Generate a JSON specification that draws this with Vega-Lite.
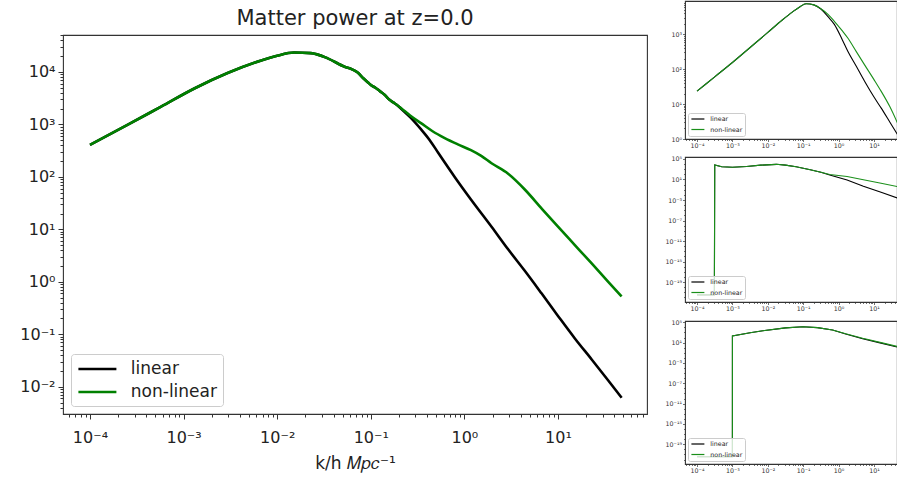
{
  "$schema": "https://vega.github.io/schema/vega-lite/v6.json",
  "background": "white",
  "padding": {"left": 6, "top": 0, "right": 0, "bottom": 0},
  "config": {
    "font": "DejaVu Sans",
    "view": {"stroke": "#333333", "strokeWidth": 1.1},
    "axis": {"grid": false, "domain": false, "labelFont": "DejaVu Sans", "titleFont": "DejaVu Sans", "labelColor": "#222222", "titleColor": "#222222", "tickColor": "#333333", "titleFontWeight": "normal", "labelOverlap": false, "labelFlush": false},
    "legend": {"labelFont": "DejaVu Sans", "labelColor": "#222222"}
  },
  "datasets": {
    "main": [
      {"k": 0.0001, "P": 407.4, "s": "linear"},
      {"k": 0.0002512, "P": 977.2, "s": "linear"},
      {"k": 0.0005754, "P": 2188, "s": "linear"},
      {"k": 0.001318, "P": 4898, "s": "linear"},
      {"k": 0.002951, "P": 9550, "s": "linear"},
      {"k": 0.006761, "P": 16596, "s": "linear"},
      {"k": 0.01, "P": 20417, "s": "linear"},
      {"k": 0.01514, "P": 23442, "s": "linear"},
      {"k": 0.02291, "P": 22909, "s": "linear"},
      {"k": 0.03467, "P": 18197, "s": "linear"},
      {"k": 0.05248, "P": 12589, "s": "linear"},
      {"k": 0.0631, "P": 11220, "s": "linear"},
      {"k": 0.07244, "P": 9772, "s": "linear"},
      {"k": 0.08318, "P": 7586, "s": "linear"},
      {"k": 0.09333, "P": 6310, "s": "linear"},
      {"k": 0.1023, "P": 5495, "s": "linear"},
      {"k": 0.1122, "P": 5012, "s": "linear"},
      {"k": 0.1259, "P": 4266, "s": "linear"},
      {"k": 0.1413, "P": 3631, "s": "linear"},
      {"k": 0.1585, "P": 2951, "s": "linear"},
      {"k": 0.1738, "P": 2630, "s": "linear"},
      {"k": 0.1905, "P": 2344, "s": "linear"},
      {"k": 0.2138, "P": 1950, "s": "linear"},
      {"k": 0.263, "P": 1380, "s": "linear"},
      {"k": 0.3467, "P": 794.3, "s": "linear"},
      {"k": 0.4266, "P": 501.2, "s": "linear"},
      {"k": 0.5248, "P": 288.4, "s": "linear"},
      {"k": 0.7943, "P": 97.72, "s": "linear"},
      {"k": 1.175, "P": 37.15, "s": "linear"},
      {"k": 1.95, "P": 11.22, "s": "linear"},
      {"k": 2.931, "P": 4.169, "s": "linear"},
      {"k": 4.416, "P": 1.622, "s": "linear"},
      {"k": 6.668, "P": 0.6026, "s": "linear"},
      {"k": 10, "P": 0.2239, "s": "linear"},
      {"k": 15.14, "P": 0.08318, "s": "linear"},
      {"k": 22.91, "P": 0.03311, "s": "linear"},
      {"k": 34.43, "P": 0.01318, "s": "linear"},
      {"k": 47.86, "P": 0.006166, "s": "linear"},
      {"k": 0.0001, "P": 407.4, "s": "non-linear"},
      {"k": 0.0002512, "P": 977.2, "s": "non-linear"},
      {"k": 0.0005754, "P": 2188, "s": "non-linear"},
      {"k": 0.001318, "P": 4898, "s": "non-linear"},
      {"k": 0.002951, "P": 9550, "s": "non-linear"},
      {"k": 0.006761, "P": 16596, "s": "non-linear"},
      {"k": 0.01, "P": 20417, "s": "non-linear"},
      {"k": 0.01514, "P": 23442, "s": "non-linear"},
      {"k": 0.02291, "P": 22909, "s": "non-linear"},
      {"k": 0.03467, "P": 18197, "s": "non-linear"},
      {"k": 0.05248, "P": 12589, "s": "non-linear"},
      {"k": 0.0631, "P": 11220, "s": "non-linear"},
      {"k": 0.07244, "P": 9772, "s": "non-linear"},
      {"k": 0.08318, "P": 7586, "s": "non-linear"},
      {"k": 0.09333, "P": 6310, "s": "non-linear"},
      {"k": 0.1023, "P": 5495, "s": "non-linear"},
      {"k": 0.1122, "P": 5012, "s": "non-linear"},
      {"k": 0.1259, "P": 4266, "s": "non-linear"},
      {"k": 0.1413, "P": 3631, "s": "non-linear"},
      {"k": 0.1585, "P": 2951, "s": "non-linear"},
      {"k": 0.1738, "P": 2630, "s": "non-linear"},
      {"k": 0.1905, "P": 2344, "s": "non-linear"},
      {"k": 0.2138, "P": 1995, "s": "non-linear"},
      {"k": 0.263, "P": 1479, "s": "non-linear"},
      {"k": 0.3467, "P": 1047, "s": "non-linear"},
      {"k": 0.4571, "P": 741.3, "s": "non-linear"},
      {"k": 0.6166, "P": 549.5, "s": "non-linear"},
      {"k": 0.8511, "P": 416.9, "s": "non-linear"},
      {"k": 1.175, "P": 323.6, "s": "non-linear"},
      {"k": 1.514, "P": 251.2, "s": "non-linear"},
      {"k": 1.95, "P": 182.0, "s": "non-linear"},
      {"k": 2.931, "P": 114.8, "s": "non-linear"},
      {"k": 4.416, "P": 57.54, "s": "non-linear"},
      {"k": 6.668, "P": 25.12, "s": "non-linear"},
      {"k": 10, "P": 11.22, "s": "non-linear"},
      {"k": 15.14, "P": 5.012, "s": "non-linear"},
      {"k": 22.91, "P": 2.239, "s": "non-linear"},
      {"k": 34.43, "P": 1.0, "s": "non-linear"},
      {"k": 47.86, "P": 0.5248, "s": "non-linear"}
    ],
    "p1": [
      {"k": 0.0001, "P": 23.44, "s": "linear"},
      {"k": 0.0003162, "P": 60.26, "s": "linear"},
      {"k": 0.001, "P": 154.9, "s": "linear"},
      {"k": 0.003162, "P": 416.9, "s": "linear"},
      {"k": 0.01, "P": 1122, "s": "linear"},
      {"k": 0.02512, "P": 2512, "s": "linear"},
      {"k": 0.05012, "P": 4365, "s": "linear"},
      {"k": 0.07943, "P": 6026, "s": "linear"},
      {"k": 0.1202, "P": 7413, "s": "linear"},
      {"k": 0.1995, "P": 6918, "s": "linear"},
      {"k": 0.3162, "P": 5248, "s": "linear"},
      {"k": 0.5012, "P": 3162, "s": "linear"},
      {"k": 0.7586, "P": 1905, "s": "linear"},
      {"k": 1.259, "P": 707.9, "s": "linear"},
      {"k": 1.82, "P": 323.6, "s": "linear"},
      {"k": 3.162, "P": 120.2, "s": "linear"},
      {"k": 5.37, "P": 45.71, "s": "linear"},
      {"k": 10, "P": 15.85, "s": "linear"},
      {"k": 15.85, "P": 7.762, "s": "linear"},
      {"k": 28.18, "P": 3.02, "s": "linear"},
      {"k": 47.86, "P": 1.259, "s": "linear"},
      {"k": 0.0001, "P": 23.44, "s": "non-linear"},
      {"k": 0.0003162, "P": 60.26, "s": "non-linear"},
      {"k": 0.001, "P": 154.9, "s": "non-linear"},
      {"k": 0.003162, "P": 416.9, "s": "non-linear"},
      {"k": 0.01, "P": 1122, "s": "non-linear"},
      {"k": 0.02512, "P": 2512, "s": "non-linear"},
      {"k": 0.05012, "P": 4365, "s": "non-linear"},
      {"k": 0.07943, "P": 6026, "s": "non-linear"},
      {"k": 0.1202, "P": 7413, "s": "non-linear"},
      {"k": 0.1995, "P": 6918, "s": "non-linear"},
      {"k": 0.3162, "P": 5370, "s": "non-linear"},
      {"k": 0.5012, "P": 3715, "s": "non-linear"},
      {"k": 0.7586, "P": 2344, "s": "non-linear"},
      {"k": 1.259, "P": 1259, "s": "non-linear"},
      {"k": 1.82, "P": 776.2, "s": "non-linear"},
      {"k": 3.162, "P": 316.2, "s": "non-linear"},
      {"k": 5.37, "P": 134.9, "s": "non-linear"},
      {"k": 10, "P": 50.12, "s": "non-linear"},
      {"k": 15.85, "P": 23.44, "s": "non-linear"},
      {"k": 28.18, "P": 8.318, "s": "non-linear"},
      {"k": 47.86, "P": 2.63, "s": "non-linear"}
    ],
    "p2": [
      {"k": 0.0001, "P": 3.162e-22, "s": "linear"},
      {"k": 0.000309, "P": 3.162e-22, "s": "linear"},
      {"k": 0.0003162, "P": 6761, "s": "linear"},
      {"k": 0.0005012, "P": 3162, "s": "linear"},
      {"k": 0.001, "P": 2399, "s": "linear"},
      {"k": 0.002512, "P": 3548, "s": "linear"},
      {"k": 0.00631, "P": 6310, "s": "linear"},
      {"k": 0.01738, "P": 9120, "s": "linear"},
      {"k": 0.03162, "P": 6310, "s": "linear"},
      {"k": 0.0631, "P": 3162, "s": "linear"},
      {"k": 0.1585, "P": 794.3, "s": "linear"},
      {"k": 0.3162, "P": 251.2, "s": "linear"},
      {"k": 0.5623, "P": 75.86, "s": "linear"},
      {"k": 1.738, "P": 7.943, "s": "linear"},
      {"k": 5.012, "P": 0.5012, "s": "linear"},
      {"k": 15.85, "P": 0.03162, "s": "linear"},
      {"k": 47.86, "P": 0.002138, "s": "linear"},
      {"k": 0.0001, "P": 3.162e-22, "s": "non-linear"},
      {"k": 0.000309, "P": 3.162e-22, "s": "non-linear"},
      {"k": 0.0003162, "P": 6761, "s": "non-linear"},
      {"k": 0.0005012, "P": 3162, "s": "non-linear"},
      {"k": 0.001, "P": 2399, "s": "non-linear"},
      {"k": 0.002512, "P": 3548, "s": "non-linear"},
      {"k": 0.00631, "P": 6310, "s": "non-linear"},
      {"k": 0.01738, "P": 9120, "s": "non-linear"},
      {"k": 0.03162, "P": 6310, "s": "non-linear"},
      {"k": 0.0631, "P": 3162, "s": "non-linear"},
      {"k": 0.1585, "P": 794.3, "s": "non-linear"},
      {"k": 0.3162, "P": 251.2, "s": "non-linear"},
      {"k": 0.5623, "P": 95.5, "s": "non-linear"},
      {"k": 1.738, "P": 39.81, "s": "non-linear"},
      {"k": 5.012, "P": 8.913, "s": "non-linear"},
      {"k": 15.85, "P": 1.905, "s": "non-linear"},
      {"k": 47.86, "P": 0.3981, "s": "non-linear"}
    ],
    "p3": [
      {"k": 0.0001, "P": 3.467e-22, "s": "linear"},
      {"k": 0.000998, "P": 3.467e-22, "s": "linear"},
      {"k": 0.001, "P": 199.5, "s": "linear"},
      {"k": 0.003162, "P": 891.3, "s": "linear"},
      {"k": 0.007244, "P": 2239, "s": "linear"},
      {"k": 0.03162, "P": 7943, "s": "linear"},
      {"k": 0.09772, "P": 13490, "s": "linear"},
      {"k": 0.2512, "P": 8913, "s": "linear"},
      {"k": 0.6761, "P": 3020, "s": "linear"},
      {"k": 1.585, "P": 501.2, "s": "linear"},
      {"k": 4.786, "P": 60.26, "s": "linear"},
      {"k": 15.85, "P": 7.943, "s": "linear"},
      {"k": 47.86, "P": 1.259, "s": "linear"},
      {"k": 0.0001, "P": 3.467e-22, "s": "non-linear"},
      {"k": 0.000998, "P": 3.467e-22, "s": "non-linear"},
      {"k": 0.001, "P": 199.5, "s": "non-linear"},
      {"k": 0.003162, "P": 891.3, "s": "non-linear"},
      {"k": 0.007244, "P": 2239, "s": "non-linear"},
      {"k": 0.03162, "P": 7943, "s": "non-linear"},
      {"k": 0.09772, "P": 13490, "s": "non-linear"},
      {"k": 0.2512, "P": 8913, "s": "non-linear"},
      {"k": 0.6761, "P": 3020, "s": "non-linear"},
      {"k": 1.585, "P": 562.3, "s": "non-linear"},
      {"k": 4.786, "P": 70.79, "s": "non-linear"},
      {"k": 15.85, "P": 10, "s": "non-linear"},
      {"k": 47.86, "P": 1.585, "s": "non-linear"}
    ]
  },
  "spacing": 14,
  "resolve": {"scale": {"color": "independent"}, "legend": {"color": "independent"}},
  "hconcat": [
    {
      "spacing": 0,
      "resolve": {"scale": {"color": "independent"}, "legend": {"color": "independent"}},
      "vconcat": [
        {
          "width": 584,
          "height": 32,
          "view": {"stroke": null},
          "data": {"values": [{"t": "Matter power at z=0.0"}]},
          "mark": {"type": "text", "fontSize": 21, "font": "DejaVu Sans", "color": "#222222", "baseline": "middle", "align": "center", "dy": 2},
          "encoding": {"text": {"field": "t", "type": "nominal"}}
        },
        {
          "width": 584,
          "height": 379,
          "data": {"name": "main"},
          "mark": {"type": "line", "strokeWidth": 2.6, "interpolate": "monotone", "clip": true},
          "encoding": {
            "x": {
              "field": "k", "type": "quantitative",
              "scale": {"type": "log", "domain": [5.15e-5, 89.3], "nice": false},
              "axis": {
                "values": [6e-5, 7e-5, 8e-5, 9e-5, 0.0001, 0.0002, 0.0003, 0.0004, 0.0005, 0.0006, 0.0007, 0.0008, 0.0009, 0.001, 0.002, 0.003, 0.004, 0.005, 0.006, 0.007, 0.008, 0.009, 0.01, 0.02, 0.03, 0.04, 0.05, 0.06, 0.07, 0.08, 0.09, 0.1, 0.2, 0.3, 0.4, 0.5, 0.6, 0.7, 0.8, 0.9, 1, 2, 3, 4, 5, 6, 7, 8, 9, 10, 20, 30, 40, 50, 60, 70, 80],
                "labelExpr": "abs(log(datum.value)/LN10 - round(log(datum.value)/LN10)) < 0.001 ? '10' + replace(replace(replace(replace(replace(replace(replace(replace(replace(replace(replace(replace('' + round(log(datum.value)/LN10),'-','⁻'),'1','¹'),'1','¹'),'2','²'),'3','³'),'4','⁴'),'5','⁵'),'6','⁶'),'7','⁷'),'8','⁸'),'9','⁹'),'0','⁰') : ''",
                "labelFontSize": {"condition": {"test": "abs(log(datum.value)/LN10 - round(log(datum.value)/LN10)) >= 0.001", "value": 0}, "value": 16},
                "labelPadding": 10,
                "tickSize": {"condition": {"test": "abs(log(datum.value)/LN10 - round(log(datum.value)/LN10)) < 0.001", "value": 5}, "value": 3},
                "title": "k/h 𝑀𝑝𝑐⁻¹",
                "titleFontSize": 17,
                "titlePadding": 10
              }
            },
            "y": {
              "field": "P", "type": "quantitative",
              "scale": {"type": "log", "domain": [0.00302, 50700], "nice": false},
              "axis": {
                "values": [0.004, 0.005, 0.006, 0.007, 0.008, 0.009, 0.01, 0.02, 0.03, 0.04, 0.05, 0.06, 0.07, 0.08, 0.09, 0.1, 0.2, 0.3, 0.4, 0.5, 0.6, 0.7, 0.8, 0.9, 1, 2, 3, 4, 5, 6, 7, 8, 9, 10, 20, 30, 40, 50, 60, 70, 80, 90, 100, 200, 300, 400, 500, 600, 700, 800, 900, 1000, 2000, 3000, 4000, 5000, 6000, 7000, 8000, 9000, 10000, 20000, 30000, 40000, 50000],
                "labelExpr": "abs(log(datum.value)/LN10 - round(log(datum.value)/LN10)) < 0.001 ? '10' + replace(replace(replace(replace(replace(replace(replace(replace(replace(replace(replace(replace('' + round(log(datum.value)/LN10),'-','⁻'),'1','¹'),'1','¹'),'2','²'),'3','³'),'4','⁴'),'5','⁵'),'6','⁶'),'7','⁷'),'8','⁸'),'9','⁹'),'0','⁰') : ''",
                "labelFontSize": {"condition": {"test": "abs(log(datum.value)/LN10 - round(log(datum.value)/LN10)) >= 0.001", "value": 0}, "value": 16},
                "labelPadding": 3,
                "tickSize": {"condition": {"test": "abs(log(datum.value)/LN10 - round(log(datum.value)/LN10)) < 0.001", "value": 5}, "value": 3},
                "title": null,
                "minExtent": 56,
                "maxExtent": 56
              }
            },
            "color": {
              "field": "s", "type": "nominal",
              "scale": {"domain": ["linear", "non-linear"], "range": ["#000000", "#008000"]},
              "legend": {"title": null, "orient": "bottom-left", "offset": 8, "labelFontSize": 17, "symbolType": "M-1,0H4", "symbolSize": 231, "symbolStrokeWidth": 2.6, "fillColor": "rgba(255,255,255,0.8)", "strokeColor": "#cccccc", "cornerRadius": 3, "padding": 6, "rowPadding": 6, "labelOffset": 35.8}
            }
          }
        }
      ]
    },
    {
      "spacing": 5,
      "resolve": {"scale": {"color": "independent"}, "legend": {"color": "independent"}},
      "vconcat": [
        {
          "width": 212,
          "height": 138,
          "data": {"name": "p1"},
          "mark": {"type": "line", "strokeWidth": 1.1, "interpolate": "monotone", "clip": true},
          "encoding": {
            "x": {
              "field": "k", "type": "quantitative",
              "scale": {"type": "log", "domain": [4.571e-5, 44.67], "nice": false},
              "axis": {
                "values": [5e-5, 6e-5, 7e-5, 8e-5, 9e-5, 0.0001, 0.0002, 0.0003, 0.0004, 0.0005, 0.0006, 0.0007, 0.0008, 0.0009, 0.001, 0.002, 0.003, 0.004, 0.005, 0.006, 0.007, 0.008, 0.009, 0.01, 0.02, 0.03, 0.04, 0.05, 0.06, 0.07, 0.08, 0.09, 0.1, 0.2, 0.3, 0.4, 0.5, 0.6, 0.7, 0.8, 0.9, 1, 2, 3, 4, 5, 6, 7, 8, 9, 10, 20, 30, 40],
                "labelExpr": "abs(log(datum.value)/LN10 - round(log(datum.value)/LN10)) < 0.001 ? '10' + replace(replace(replace(replace(replace(replace(replace(replace(replace(replace(replace(replace('' + round(log(datum.value)/LN10),'-','⁻'),'1','¹'),'1','¹'),'2','²'),'3','³'),'4','⁴'),'5','⁵'),'6','⁶'),'7','⁷'),'8','⁸'),'9','⁹'),'0','⁰') : ''",
                "labelFontSize": {"condition": {"test": "abs(log(datum.value)/LN10 - round(log(datum.value)/LN10)) >= 0.001", "value": 0}, "value": 6.3},
                "labelPadding": 1, "labelColor": "#333333",
                "tickSize": {"condition": {"test": "abs(log(datum.value)/LN10 - round(log(datum.value)/LN10)) < 0.001", "value": 2.5}, "value": 1.5},
                "tickWidth": 0.7,
                "title": null
              }
            },
            "y": {
              "field": "P", "type": "quantitative",
              "scale": {"type": "log", "domain": [1, 8913], "nice": false},
              "axis": {
                "values": [1, 2, 3, 4, 5, 6, 7, 8, 9, 10, 20, 30, 40, 50, 60, 70, 80, 90, 100, 200, 300, 400, 500, 600, 700, 800, 900, 1000, 2000, 3000, 4000, 5000, 6000, 7000, 8000],
                "labelExpr": "abs(log(datum.value)/LN10 - round(log(datum.value)/LN10)) < 0.001 ? '10' + replace(replace(replace(replace(replace(replace(replace(replace(replace(replace(replace(replace('' + round(log(datum.value)/LN10),'-','⁻'),'1','¹'),'1','¹'),'2','²'),'3','³'),'4','⁴'),'5','⁵'),'6','⁶'),'7','⁷'),'8','⁸'),'9','⁹'),'0','⁰') : ''",
                "labelFontSize": {"condition": {"test": "abs(log(datum.value)/LN10 - round(log(datum.value)/LN10)) >= 0.001", "value": 0}, "value": 6.3},
                "labelPadding": 1, "labelColor": "#333333",
                "tickSize": {"condition": {"test": "abs(log(datum.value)/LN10 - round(log(datum.value)/LN10)) < 0.001", "value": 2.5}, "value": 1.5},
                "tickWidth": 0.7,
                "title": null, "minExtent": 22, "maxExtent": 22
              }
            },
            "color": {
              "field": "s", "type": "nominal",
              "scale": {"domain": ["linear", "non-linear"], "range": ["#000000", "#1a8f1a"]},
              "legend": {"title": null, "orient": "bottom-left", "offset": 3, "labelFontSize": 6.3, "symbolType": "M-1,0H4", "symbolSize": 27, "symbolStrokeWidth": 1.2, "fillColor": "rgba(255,255,255,0.8)", "strokeColor": "#cccccc", "cornerRadius": 2, "padding": 2.5, "rowPadding": 3.5, "labelOffset": 12.8}
            }
          }
        },
        {
          "width": 212,
          "height": 145,
          "data": {"name": "p2"},
          "mark": {"type": "line", "strokeWidth": 1.1, "clip": true},
          "encoding": {
            "x": {
              "field": "k", "type": "quantitative",
              "scale": {"type": "log", "domain": [4.571e-5, 44.67], "nice": false},
              "axis": {
                "values": [5e-5, 6e-5, 7e-5, 8e-5, 9e-5, 0.0001, 0.0002, 0.0003, 0.0004, 0.0005, 0.0006, 0.0007, 0.0008, 0.0009, 0.001, 0.002, 0.003, 0.004, 0.005, 0.006, 0.007, 0.008, 0.009, 0.01, 0.02, 0.03, 0.04, 0.05, 0.06, 0.07, 0.08, 0.09, 0.1, 0.2, 0.3, 0.4, 0.5, 0.6, 0.7, 0.8, 0.9, 1, 2, 3, 4, 5, 6, 7, 8, 9, 10, 20, 30, 40],
                "labelExpr": "abs(log(datum.value)/LN10 - round(log(datum.value)/LN10)) < 0.001 ? '10' + replace(replace(replace(replace(replace(replace(replace(replace(replace(replace(replace(replace('' + round(log(datum.value)/LN10),'-','⁻'),'1','¹'),'1','¹'),'2','²'),'3','³'),'4','⁴'),'5','⁵'),'6','⁶'),'7','⁷'),'8','⁸'),'9','⁹'),'0','⁰') : ''",
                "labelFontSize": {"condition": {"test": "abs(log(datum.value)/LN10 - round(log(datum.value)/LN10)) >= 0.001", "value": 0}, "value": 6.3},
                "labelPadding": 1, "labelColor": "#333333",
                "tickSize": {"condition": {"test": "abs(log(datum.value)/LN10 - round(log(datum.value)/LN10)) < 0.001", "value": 2.5}, "value": 1.5},
                "tickWidth": 0.7,
                "title": null
              }
            },
            "y": {
              "field": "P", "type": "quantitative",
              "scale": {"type": "log", "domain": [1.26e-23, 2.45e5], "nice": false},
              "axis": {
                "values": [1e-22, 1e-21, 1e-20, 1e-19, 1e-18, 1e-17, 1e-16, 1e-15, 1e-14, 1e-13, 1e-12, 1e-11, 1e-10, 1e-9, 1e-8, 1e-7, 1e-6, 1e-5, 1e-4, 1e-3, 1e-2, 1e-1, 1, 10, 100, 1000, 10000, 100000],
                "labelExpr": "(round(log(datum.value)/LN10) + 19) % 4 == 0 ? '10' + replace(replace(replace(replace(replace(replace(replace(replace(replace(replace(replace(replace('' + round(log(datum.value)/LN10),'-','⁻'),'1','¹'),'1','¹'),'2','²'),'3','³'),'4','⁴'),'5','⁵'),'6','⁶'),'7','⁷'),'8','⁸'),'9','⁹'),'0','⁰') : ''",
                "labelFontSize": {"condition": {"test": "(round(log(datum.value)/LN10) + 19) % 4 != 0", "value": 0}, "value": 6.3},
                "labelPadding": 1, "labelColor": "#333333",
                "tickSize": {"condition": {"test": "(round(log(datum.value)/LN10) + 19) % 4 == 0", "value": 2.5}, "value": 1.5},
                "tickWidth": 0.7,
                "title": null, "minExtent": 22, "maxExtent": 22
              }
            },
            "color": {
              "field": "s", "type": "nominal",
              "scale": {"domain": ["linear", "non-linear"], "range": ["#000000", "#1a8f1a"]},
              "legend": {"title": null, "orient": "bottom-left", "offset": 3, "labelFontSize": 6.3, "symbolType": "M-1,0H4", "symbolSize": 27, "symbolStrokeWidth": 1.2, "fillColor": "rgba(255,255,255,0.8)", "strokeColor": "#cccccc", "cornerRadius": 2, "padding": 2.5, "rowPadding": 3.5, "labelOffset": 12.8}
            }
          }
        },
        {
          "width": 212,
          "height": 143,
          "data": {"name": "p3"},
          "mark": {"type": "line", "strokeWidth": 1.1, "clip": true},
          "encoding": {
            "x": {
              "field": "k", "type": "quantitative",
              "scale": {"type": "log", "domain": [4.571e-5, 44.67], "nice": false},
              "axis": {
                "values": [5e-5, 6e-5, 7e-5, 8e-5, 9e-5, 0.0001, 0.0002, 0.0003, 0.0004, 0.0005, 0.0006, 0.0007, 0.0008, 0.0009, 0.001, 0.002, 0.003, 0.004, 0.005, 0.006, 0.007, 0.008, 0.009, 0.01, 0.02, 0.03, 0.04, 0.05, 0.06, 0.07, 0.08, 0.09, 0.1, 0.2, 0.3, 0.4, 0.5, 0.6, 0.7, 0.8, 0.9, 1, 2, 3, 4, 5, 6, 7, 8, 9, 10, 20, 30, 40],
                "labelExpr": "abs(log(datum.value)/LN10 - round(log(datum.value)/LN10)) < 0.001 ? '10' + replace(replace(replace(replace(replace(replace(replace(replace(replace(replace(replace(replace('' + round(log(datum.value)/LN10),'-','⁻'),'1','¹'),'1','¹'),'2','²'),'3','³'),'4','⁴'),'5','⁵'),'6','⁶'),'7','⁷'),'8','⁸'),'9','⁹'),'0','⁰') : ''",
                "labelFontSize": {"condition": {"test": "abs(log(datum.value)/LN10 - round(log(datum.value)/LN10)) >= 0.001", "value": 0}, "value": 6.3},
                "labelPadding": 1, "labelColor": "#333333",
                "tickSize": {"condition": {"test": "abs(log(datum.value)/LN10 - round(log(datum.value)/LN10)) < 0.001", "value": 2.5}, "value": 1.5},
                "tickWidth": 0.7,
                "title": null
              }
            },
            "y": {
              "field": "P", "type": "quantitative",
              "scale": {"type": "log", "domain": [1.32e-23, 1.8e5], "nice": false},
              "axis": {
                "values": [1e-22, 1e-21, 1e-20, 1e-19, 1e-18, 1e-17, 1e-16, 1e-15, 1e-14, 1e-13, 1e-12, 1e-11, 1e-10, 1e-9, 1e-8, 1e-7, 1e-6, 1e-5, 1e-4, 1e-3, 1e-2, 1e-1, 1, 10, 100, 1000, 10000, 100000],
                "labelExpr": "(round(log(datum.value)/LN10) + 19) % 4 == 0 ? '10' + replace(replace(replace(replace(replace(replace(replace(replace(replace(replace(replace(replace('' + round(log(datum.value)/LN10),'-','⁻'),'1','¹'),'1','¹'),'2','²'),'3','³'),'4','⁴'),'5','⁵'),'6','⁶'),'7','⁷'),'8','⁸'),'9','⁹'),'0','⁰') : ''",
                "labelFontSize": {"condition": {"test": "(round(log(datum.value)/LN10) + 19) % 4 != 0", "value": 0}, "value": 6.3},
                "labelPadding": 1, "labelColor": "#333333",
                "tickSize": {"condition": {"test": "(round(log(datum.value)/LN10) + 19) % 4 == 0", "value": 2.5}, "value": 1.5},
                "tickWidth": 0.7,
                "title": null, "minExtent": 22, "maxExtent": 22
              }
            },
            "color": {
              "field": "s", "type": "nominal",
              "scale": {"domain": ["linear", "non-linear"], "range": ["#000000", "#1a8f1a"]},
              "legend": {"title": null, "orient": "bottom-left", "offset": 3, "labelFontSize": 6.3, "symbolType": "M-1,0H4", "symbolSize": 27, "symbolStrokeWidth": 1.2, "fillColor": "rgba(255,255,255,0.8)", "strokeColor": "#cccccc", "cornerRadius": 2, "padding": 2.5, "rowPadding": 3.5, "labelOffset": 12.8}
            }
          }
        }
      ]
    }
  ]
}
